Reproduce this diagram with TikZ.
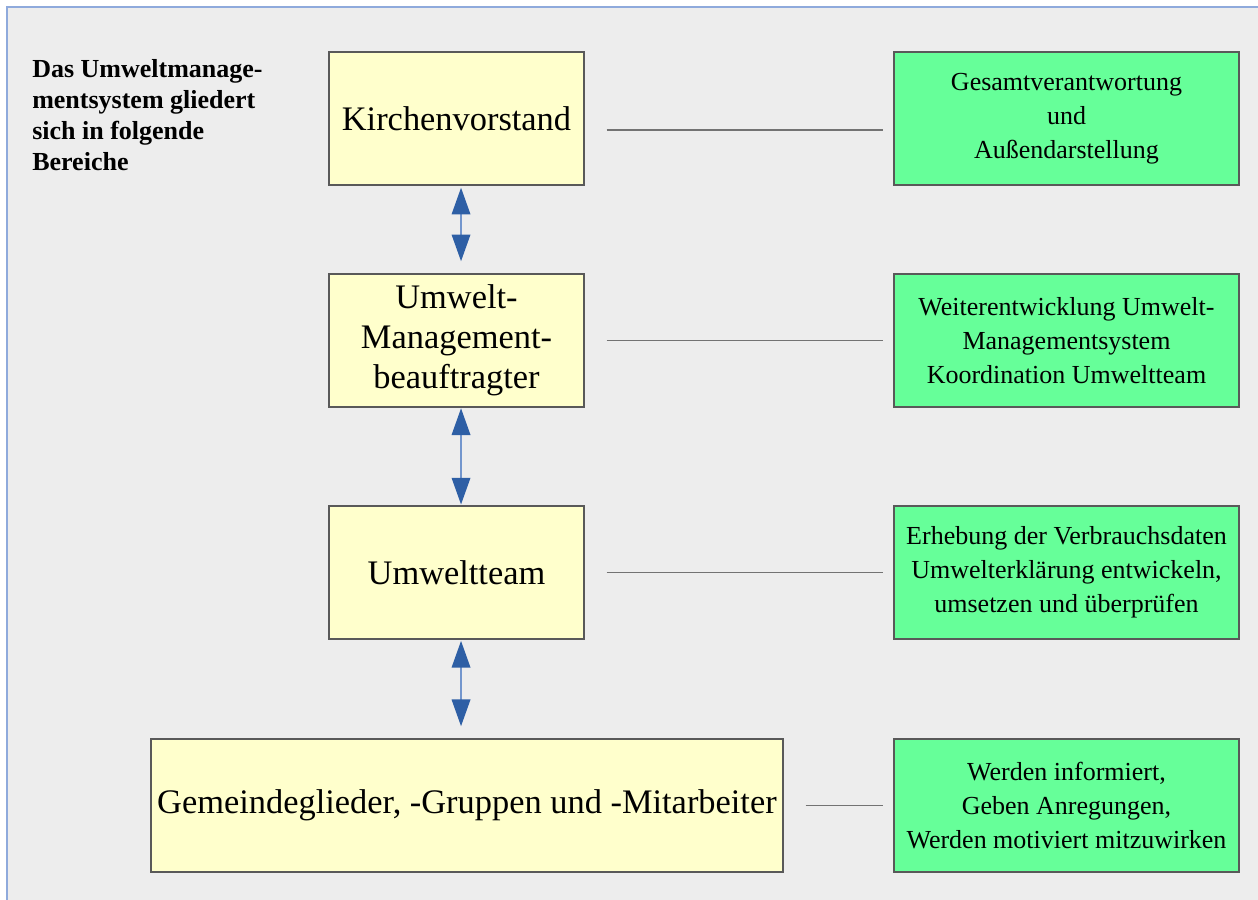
\documentclass[tikz,border=0pt]{standalone}
\usepackage{fontspec}
\setmainfont{Liberation Serif}
\usetikzlibrary{arrows.meta,positioning}

\definecolor{bggray}{RGB}{237,237,237}
\definecolor{frameblue}{RGB}{143,170,220}
\definecolor{roleyellow}{RGB}{255,255,204}
\definecolor{taskgreen}{RGB}{102,255,153}
\definecolor{tipblue}{RGB}{46,95,165}
\definecolor{shaftblue}{RGB}{115,150,205}

\begin{document}
\begin{tikzpicture}[
  x=0.75pt, y=-0.75pt,
  role/.style={draw=black!65, line width=1.1pt, fill=roleyellow, align=center,
    minimum width=191.25pt, minimum height=99.75pt, inner sep=2pt,
    font=\fontsize{25.8}{30}\selectfont},
  task/.style={draw=black!65, line width=1.1pt, fill=taskgreen, align=center,
    minimum width=258.75pt, minimum height=99.75pt, inner sep=2pt,
    font=\fontsize{19.5}{25.5}\selectfont},
  link/.style={draw=black!55, line width=1.1pt},
  arr/.style={{Triangle[length=20pt,width=14pt,color=tipblue]}-{Triangle[length=20pt,width=14pt,color=tipblue]},
    draw=shaftblue, line width=1pt}
]
% page and frame
\useasboundingbox (0,0) rectangle (1258,900);
\fill[white] (0,0) rectangle (1258,900);
\fill[bggray] (7,7) rectangle (1258,900);
\draw[frameblue, line width=1.2pt] (7,900) -- (7,7) -- (1258,7);

\node[anchor=north west, inner sep=0pt, align=left,
  font=\bfseries\fontsize{19.5}{23.25}\selectfont] (intro) at (32,59)
  {Das Umweltmanage-\\mentsystem gliedert\\sich in folgende\\Bereiche};

% left column
\node[role] (kv) at (456.5,118.5) {Kirchenvorstand};
\node[role, below=65.6pt of kv] (umb) {Umwelt-\\Management-\\beauftragter};
\node[role, below=73.1pt of umb] (team) {Umweltteam};
\node[role, minimum width=474pt, below=73.9pt of team, xshift=7.875pt] (gem)
  {Gemeindeglieder, -Gruppen und -Mitarbeiter};

% right column
\node[task, right=231.4pt of kv] (gkv) {Gesamtverantwortung\\und\\Außendarstellung};
\node[task, right=231.4pt of umb] (gumb) {Weiterentwicklung Umwelt-\\Managementsystem\\Koordination Umweltteam};
\node[task, right=231.4pt of team] (gteam) {Erhebung der Verbrauchsdaten\\Umwelterklärung entwickeln,\\umsetzen und überprüfen};
\node[task, below=73.9pt of gteam] (ggem) {Werden informiert,\\Geben Anregungen,\\Werden motiviert mitzuwirken};

\draw[link] ([xshift=16.5pt,yshift=-8.6pt]kv.east) -- ([xshift=-7.5pt,yshift=-8.6pt]gkv.west);
\draw[link] ([xshift=16.5pt]umb.east) -- ([xshift=-7.5pt]gumb.west);
\draw[link] ([xshift=16.5pt]team.east) -- ([xshift=-7.5pt]gteam.west);
\draw[link] ([xshift=16.5pt]gem.east) -- ([xshift=-7.5pt]ggem.west);

\draw[arr, shorten <=1.5pt, shorten >=9pt] ([xshift=3.4pt]kv.south) -- ([xshift=3.4pt]umb.north);
\draw[arr, shorten <=0.5pt, shorten >=0.5pt] ([xshift=3.4pt]umb.south) -- ([xshift=3.4pt]team.north);
\draw[arr, shorten <=1pt, shorten >=9pt] ([xshift=3.4pt]team.south) -- ([xshift=3.4pt]team.south |- gem.north);
\end{tikzpicture}
\end{document}
